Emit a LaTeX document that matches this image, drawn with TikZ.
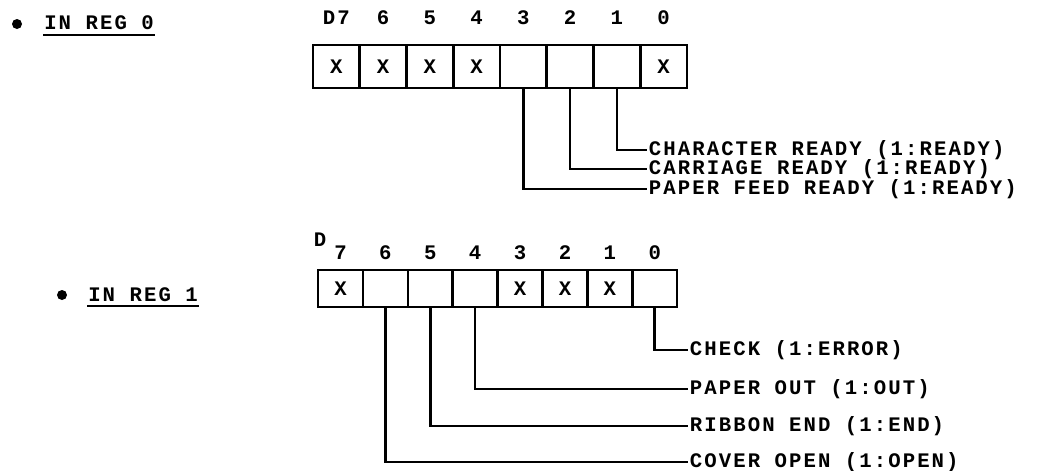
\documentclass[tikz,border=0pt]{standalone}
\usepackage{fontspec}
\newfontfamily\regfamily[LetterSpace=10]{Liberation Mono}
\usepackage{tikz}
\usetikzlibrary{positioning}
\newcommand{\regFont}{\fontsize{15.5}{15.5}\selectfont\regfamily\bfseries}
\newcommand{\cellA}{46.75}
\newcommand{\cellB}{44.9}

\begin{document}
\begin{tikzpicture}[x=0.75pt, y=-0.75pt, line width=1.9pt, every node/.style={font=\regFont},
		bitcell/.style 2 args={draw, inner sep=0pt, minimum width=#1, minimum height=#2},
		flag/.style={anchor=west, inner sep=0.5pt},
		reg/.style={anchor=west, inner sep=0pt},
		dot/.style={circle, fill, inner sep=0pt, minimum size=7.5pt}]
	\useasboundingbox (0,0) rectangle (1050,471);
	%\begin{register}{IN REG 0}
		\node[dot] (dot0) at (17,24) {};
		\node[reg] (reg0) at (43,22.5) {IN REG 0};
		\draw ([yshift=-3pt]reg0.south west) -- ([yshift=-3pt]reg0.south east);
		\foreach \b/\v/\t in {7/X/D7, 6/X/6, 5/X/5, 4/X/4, 3//3, 2//2, 1//1, 0/X/0}{
			\node[bitcell={35.06pt}{32.25pt}] (a\b) at ({313+(7.5-\b)*\cellA},66.5) {\v};
			\node (na\b) at ({313+(7.5-\b)*\cellA},18) {\t};
		}
		\node[flag] (chr) at (647,150) {CHARACTER READY (1:READY)};
		\node[flag] (car) at (647,169) {CARRIAGE READY (1:READY)};
		\node[flag] (pfd) at (647,189) {PAPER FEED READY (1:READY)};
		\draw (a1.south) |- (chr.west);
		\draw (a2.south) |- (car.west);
		\draw (a3.south) |- (pfd.west);
	%\end{register}
	%\begin{register}{IN REG 1}
		\node[dot] (dot1) at (62,295) {};
		\node[reg] (reg1) at (87,294.5) {IN REG 1};
		\draw ([yshift=-2.5pt]reg1.south west) -- ([yshift=-2.5pt]reg1.south east);
		\foreach \b/\v in {7/X, 6/, 5/, 4/, 3/X, 2/X, 1/X, 0/}{
			\node[bitcell={33.68pt}{27.75pt}] (b\b) at ({318+(7.5-\b)*\cellB},288.5) {\v};
			\node (nb\b) at ({318+(7.5-\b)*\cellB},253) {\b};
		}
		\node (nbd) at (320,240) {D};
		\node[flag] (chk) at (688,350) {CHECK (1:ERROR)};
		\node[flag] (pout) at (688,389) {PAPER OUT (1:OUT)};
		\node[flag] (rib) at (688,426) {RIBBON END (1:END)};
		\node[flag] (cov) at (688,462) {COVER OPEN (1:OPEN)};
		\draw (b0.south) |- (chk.west);
		\draw (b4.south) |- (pout.west);
		\draw (b5.south) |- (rib.west);
		\draw (b6.south) |- (cov.west);
	%\end{register}
\end{tikzpicture}
\end{document}
